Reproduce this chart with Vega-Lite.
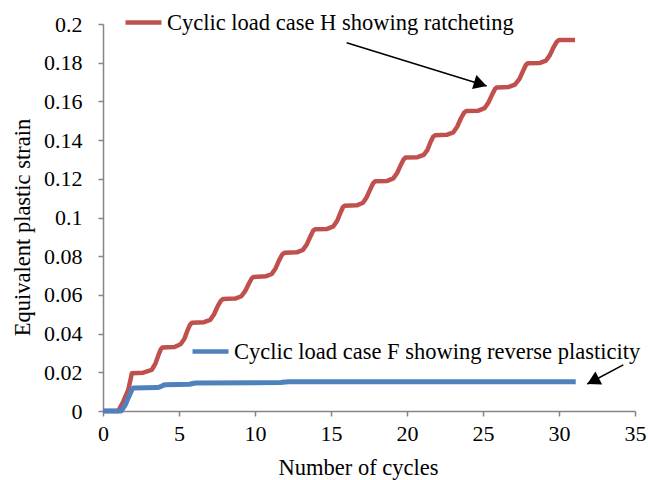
{
  "$schema": "https://vega.github.io/schema/vega-lite/v6.json",
  "width": 532,
  "height": 387,
  "autosize": {"type": "none"},
  "padding": {"left": 103, "top": 24, "right": 13, "bottom": 69},
  "background": "white",
  "config": {
    "view": {"stroke": null},
    "font": "Liberation Serif",
    "axis": {
      "grid": false,
      "domainColor": "#868686",
      "domainWidth": 1.5,
      "tickColor": "#868686",
      "tickWidth": 1.5,
      "tickSize": 5,
      "labelFont": "Liberation Serif",
      "labelFontSize": 22,
      "labelColor": "#000000",
      "labelFlush": false,
      "labelOverlap": false,
      "titleFont": "Liberation Serif",
      "titleFontSize": 22.5,
      "titleFontWeight": "normal",
      "titleColor": "#000000"
    },
    "axisY": {"labelOverlap": false},
    "legend": {
      "labelFont": "Liberation Serif",
      "labelFontSize": 22.5,
      "labelColor": "#000000",
      "labelLimit": 0,
      "symbolType": "stroke",
      "symbolSize": 1296,
      "symbolStrokeWidth": 4.5,
      "labelOffset": 3,
      "padding": 0,
      "orient": "none"
    }
  },
  "datasets": {
    "red": [
      {"cycles": 0, "strain": 0},
      {"cycles": 1.0, "strain": 0},
      {"cycles": 1.33, "strain": 0.0048},
      {"cycles": 1.66, "strain": 0.0109},
      {"cycles": 1.9, "strain": 0.0195},
      {"cycles": 2.65, "strain": 0.0198},
      {"cycles": 3.2, "strain": 0.0212},
      {"cycles": 3.45, "strain": 0.0245},
      {"cycles": 3.65, "strain": 0.029},
      {"cycles": 3.8, "strain": 0.0318},
      {"cycles": 3.9, "strain": 0.0328},
      {"cycles": 4.7, "strain": 0.0331},
      {"cycles": 5.1, "strain": 0.0345},
      {"cycles": 5.35, "strain": 0.0372},
      {"cycles": 5.55, "strain": 0.0415},
      {"cycles": 5.72, "strain": 0.0445},
      {"cycles": 5.85, "strain": 0.0456},
      {"cycles": 6.65, "strain": 0.0459},
      {"cycles": 7.05, "strain": 0.0471},
      {"cycles": 7.3, "strain": 0.0499},
      {"cycles": 7.55, "strain": 0.0542},
      {"cycles": 7.75, "strain": 0.0569},
      {"cycles": 7.9, "strain": 0.0579},
      {"cycles": 8.7, "strain": 0.0581},
      {"cycles": 9.1, "strain": 0.0593},
      {"cycles": 9.35, "strain": 0.0619},
      {"cycles": 9.6, "strain": 0.0659},
      {"cycles": 9.78, "strain": 0.0685},
      {"cycles": 9.9, "strain": 0.0693},
      {"cycles": 10.7, "strain": 0.0696},
      {"cycles": 11.1, "strain": 0.0708},
      {"cycles": 11.35, "strain": 0.0737},
      {"cycles": 11.6, "strain": 0.0781},
      {"cycles": 11.8, "strain": 0.081},
      {"cycles": 11.95, "strain": 0.0818},
      {"cycles": 12.75, "strain": 0.082},
      {"cycles": 13.15, "strain": 0.0833},
      {"cycles": 13.4, "strain": 0.086},
      {"cycles": 13.65, "strain": 0.0903},
      {"cycles": 13.82, "strain": 0.0931},
      {"cycles": 13.95, "strain": 0.0939},
      {"cycles": 14.75, "strain": 0.0941},
      {"cycles": 15.15, "strain": 0.0954},
      {"cycles": 15.4, "strain": 0.0982},
      {"cycles": 15.62, "strain": 0.1024},
      {"cycles": 15.78, "strain": 0.1053},
      {"cycles": 15.9, "strain": 0.1061},
      {"cycles": 16.7, "strain": 0.1063},
      {"cycles": 17.1, "strain": 0.1076},
      {"cycles": 17.35, "strain": 0.1105},
      {"cycles": 17.6, "strain": 0.1149},
      {"cycles": 17.78, "strain": 0.1178},
      {"cycles": 17.9, "strain": 0.1187},
      {"cycles": 18.7, "strain": 0.1189},
      {"cycles": 19.1, "strain": 0.1202},
      {"cycles": 19.35, "strain": 0.123},
      {"cycles": 19.6, "strain": 0.1273},
      {"cycles": 19.78, "strain": 0.1301},
      {"cycles": 19.9, "strain": 0.131},
      {"cycles": 20.7, "strain": 0.1312},
      {"cycles": 21.1, "strain": 0.1324},
      {"cycles": 21.35, "strain": 0.135},
      {"cycles": 21.55, "strain": 0.139},
      {"cycles": 21.72, "strain": 0.1417},
      {"cycles": 21.85, "strain": 0.1425},
      {"cycles": 22.65, "strain": 0.1428},
      {"cycles": 23.05, "strain": 0.144},
      {"cycles": 23.3, "strain": 0.1469},
      {"cycles": 23.55, "strain": 0.1513},
      {"cycles": 23.75, "strain": 0.1541},
      {"cycles": 23.9, "strain": 0.155},
      {"cycles": 24.7, "strain": 0.1552},
      {"cycles": 25.1, "strain": 0.1565},
      {"cycles": 25.35, "strain": 0.1593},
      {"cycles": 25.6, "strain": 0.1635},
      {"cycles": 25.78, "strain": 0.1663},
      {"cycles": 25.9, "strain": 0.1672},
      {"cycles": 26.7, "strain": 0.1675},
      {"cycles": 27.1, "strain": 0.1687},
      {"cycles": 27.4, "strain": 0.1716},
      {"cycles": 27.65, "strain": 0.176},
      {"cycles": 27.82, "strain": 0.1788},
      {"cycles": 27.95, "strain": 0.1797},
      {"cycles": 28.75, "strain": 0.1799},
      {"cycles": 29.15, "strain": 0.1811},
      {"cycles": 29.4, "strain": 0.1839},
      {"cycles": 29.65, "strain": 0.1881},
      {"cycles": 29.85, "strain": 0.1908},
      {"cycles": 30.0, "strain": 0.1917},
      {"cycles": 31.05, "strain": 0.1917}
    ],
    "blue": [
      {"cycles": 0, "strain": 0},
      {"cycles": 1.2, "strain": 0},
      {"cycles": 1.45, "strain": 0.003},
      {"cycles": 1.7, "strain": 0.0075},
      {"cycles": 1.9, "strain": 0.011},
      {"cycles": 2.0, "strain": 0.0119},
      {"cycles": 3.6, "strain": 0.0121},
      {"cycles": 3.8, "strain": 0.0126},
      {"cycles": 4.0, "strain": 0.0134},
      {"cycles": 4.15, "strain": 0.0136},
      {"cycles": 5.7, "strain": 0.0138},
      {"cycles": 5.9, "strain": 0.0142},
      {"cycles": 6.1, "strain": 0.0145},
      {"cycles": 11.7, "strain": 0.0147},
      {"cycles": 12.0, "strain": 0.015},
      {"cycles": 12.2, "strain": 0.0151},
      {"cycles": 31.1, "strain": 0.0151}
    ],
    "arrows": [
      {"cycles": 25.24, "strain": 0.168, "x0": 16.03, "y0": 0.1903, "ang": 107.2},
      {"cycles": 31.86, "strain": 0.01395, "x0": 34.23, "y0": 0.0238, "ang": 242.2}
    ]
  },
  "encoding": {
    "x": {
      "field": "cycles", "type": "quantitative",
      "scale": {"domain": [0, 35], "nice": false},
      "axis": {"values": [0, 5, 10, 15, 20, 25, 30, 35], "title": "Number of cycles", "labelPadding": 7, "labelOverlap": false, "titleX": 255, "titleY": 56, "titleBaseline": "middle"}
    },
    "y": {
      "field": "strain", "type": "quantitative",
      "scale": {"domain": [0, 0.2], "nice": false},
      "axis": {"values": [0, 0.02, 0.04, 0.06, 0.08, 0.1, 0.12, 0.14, 0.16, 0.18, 0.2], "tickCount": 11, "format": "~g", "title": "Equivalent plastic strain", "labelPadding": 16, "labelOverlap": false, "labelSeparation": 0, "titleX": -81, "titleY": 203, "titleBaseline": "middle"}
    }
  },
  "resolve": {"scale": {"color": "independent"}},
  "layer": [
    {
      "data": {"name": "red"},
      "transform": [{"calculate": "'Cyclic load case H showing ratcheting'", "as": "series"}],
      "mark": {"type": "line", "strokeWidth": 4.5, "interpolate": "linear", "strokeCap": "butt", "strokeJoin": "round"},
      "encoding": {
        "color": {
          "field": "series", "type": "nominal",
          "scale": {"range": ["#C0504D"]},
          "legend": {"title": null, "legendX": 20, "legendY": -22}
        }
      }
    },
    {
      "data": {"name": "blue"},
      "transform": [{"calculate": "'Cyclic load case F showing reverse plasticity'", "as": "series"}],
      "mark": {"type": "line", "strokeWidth": 5, "interpolate": "linear", "strokeCap": "butt", "strokeJoin": "round"},
      "encoding": {
        "color": {
          "field": "series", "type": "nominal",
          "scale": {"range": ["#4F81BD"]},
          "legend": {"title": null, "legendX": 87, "legendY": 307}
        }
      }
    },
    {
      "data": {"name": "arrows"},
      "mark": {"type": "rule", "color": "#000000", "strokeWidth": 1.5},
      "encoding": {
        "x2": {"field": "x0"},
        "y2": {"field": "y0"}
      }
    },
    {
      "data": {"name": "arrows"},
      "mark": {"type": "point", "filled": true, "color": "#000000", "shape": "M0,0L0.56,1L-0.56,1Z", "size": 676, "opacity": 1},
      "encoding": {
        "angle": {"field": "ang", "type": "quantitative", "scale": null}
      }
    }
  ]
}
